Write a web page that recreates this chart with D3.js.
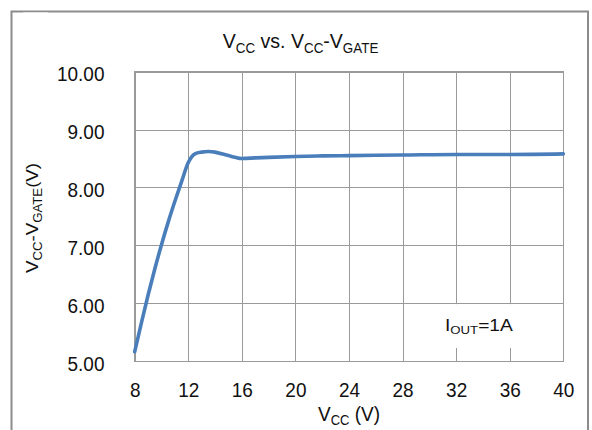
<!DOCTYPE html>
<html>
<head>
<meta charset="utf-8">
<script src="https://cdn.jsdelivr.net/npm/d3@7"></script>
<style>
  html, body { margin: 0; padding: 0; background: #fff; }
  svg { display: block; font-family: "Liberation Sans", Arial, sans-serif; }
</style>
</head>
<body>
<svg id="chart" width="592" height="430"></svg>
<script>
// ---- data ----
const vcc = [8, 8.5, 9, 9.5, 10, 10.5, 11, 11.5, 12, 12.5, 13, 13.5, 14, 14.5, 15, 15.5, 16, 17, 18, 20, 22, 24, 28, 32, 36, 40];
const vccMinusGate = [5.16, 5.66, 6.14, 6.59, 7.01, 7.40, 7.76, 8.10, 8.43, 8.58, 8.61, 8.62, 8.61, 8.58, 8.55, 8.52, 8.50, 8.51, 8.52, 8.535, 8.545, 8.55, 8.56, 8.57, 8.57, 8.58];
const xTicks = [8, 12, 16, 20, 24, 28, 32, 36, 40];
const yTicks = [5, 6, 7, 8, 9, 10];
const annotation = { main: "I", sub: "OUT", rest: "=1A" };

(function () {
// ---- layout ----
const svg = d3.select("#chart");
const pL = 134.7, pR = 563.3, pT = 71.7, pB = 361;
const x = d3.scaleLinear().domain([8, 40]).range([pL, pR]);
const y = d3.scaleLinear().domain([5, 10]).range([pB, pT]);
const gridColor = "#9a9a9a";
const SY = 1.1; // vertical stretch of text in the reference

// outer frame
svg.append("path")
  .attr("d", "M11.5,440V11.5H588V440")
  .attr("fill", "none").attr("stroke", "#8c8c8c").attr("stroke-width", 2);
svg.append("line").attr("x1", 23).attr("x2", 48).attr("y1", 12.5).attr("y2", 12.5)
  .attr("stroke", "#e2e2e2").attr("stroke-width", 1);

// gridlines via axes
const gx = svg.append("g").attr("transform", `translate(0,${pB})`)
  .call(d3.axisBottom(x).tickValues(xTicks).tickSize(-(pB - pT)).tickFormat(""));
const gy = svg.append("g").attr("transform", `translate(${pL},0)`)
  .call(d3.axisLeft(y).tickValues(yTicks).tickSize(-(pR - pL)).tickFormat(""));
[gx, gy].forEach(g => {
  g.select(".domain").remove();
  g.selectAll(".tick line").attr("stroke", gridColor).attr("stroke-width", 1)
    .attr("shape-rendering", "crispEdges");
});
// plot border
svg.append("rect").attr("x", pL).attr("y", pT)
  .attr("width", pR - pL).attr("height", pB - pT)
  .attr("fill", "none").attr("stroke", gridColor).attr("stroke-width", 1)
  .attr("shape-rendering", "crispEdges");

// annotation background box (covers gridlines)
svg.append("rect").attr("x", 425).attr("y", y(6) + 1)
  .attr("width", pR - 425 - 1).attr("height", 348 - y(6) - 1)
  .attr("fill", "#fff");

// tick labels
const fs = 19;
gx.selectAll(".tick").each(function(d) {
  d3.select(this).append("text")
    .attr("transform", `translate(0,${396.7 - pB}) scale(1,${SY})`)
    .attr("text-anchor", "middle").attr("fill", "#111")
    .attr("font-size", fs).text(d);
});
gy.selectAll(".tick").each(function(d) {
  d3.select(this).append("text")
    .attr("transform", `translate(${104.5 - pL},9) scale(1,${SY})`)
    .attr("text-anchor", "end").attr("fill", "#111")
    .attr("font-size", fs).text(d3.format(".2f")(d));
});

// helper for sub-scripted text
function richText(parent, parts, size, subSize, shift) {
  const t = parent.append("text").attr("fill", "#111").attr("font-size", size);
  parts.forEach(p => {
    const s = t.append("tspan").text(p.t);
    if (p.sub) s.attr("font-size", subSize).attr("dy", shift);
    else if (p.back) s.attr("dy", -shift);
  });
  return t;
}

// title
const title = svg.append("g").attr("transform", `translate(300.5,48.3) scale(1.03,${SY})`);
richText(title, [
  { t: "V" }, { t: "CC", sub: true }, { t: " vs. V", back: true }, { t: "CC", sub: true },
  { t: "-V", back: true }, { t: "GATE", sub: true }
], 19, 13, 4).attr("text-anchor", "middle");

// x-axis title
const xt = svg.append("g").attr("transform", `translate(349,421) scale(1,${SY})`);
richText(xt, [{ t: "V" }, { t: "CC", sub: true }, { t: " (V)", back: true }], 19, 13, 4)
  .attr("text-anchor", "middle");

// y-axis title
const yt = svg.append("g").attr("transform", `translate(37.5,218) rotate(-90) scale(${SY},1)`);
richText(yt, [
  { t: "V" }, { t: "CC", sub: true }, { t: "-V", back: true }, { t: "GATE", sub: true },
  { t: "(V)", back: true }
], 17, 12, 4).attr("text-anchor", "middle");

// annotation
const an = svg.append("g").attr("transform", `translate(445,330.7) scale(1.2,1.05)`);
richText(an, [{ t: annotation.main }, { t: annotation.sub, sub: true }, { t: annotation.rest, back: true }],
  16, 11, 3);

// data line
const pts = vcc.map((v, i) => [v, vccMinusGate[i]]);
svg.append("path")
  .datum(pts)
  .attr("fill", "none")
  .attr("stroke", "#4a7ebb")
  .attr("stroke-width", 3.6)
  .attr("stroke-linejoin", "round")
  .attr("stroke-linecap", "round")
  .attr("d", d3.line().x(d => x(d[0])).y(d => y(d[1])).curve(d3.curveMonotoneX));
})();
</script>
</body>
</html>
